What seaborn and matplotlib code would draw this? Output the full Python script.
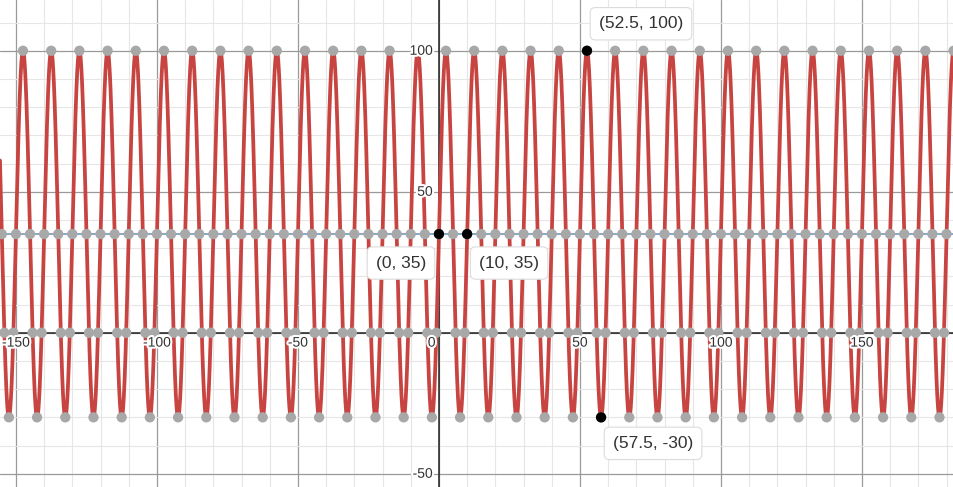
import numpy as np
import pandas as pd
import seaborn as sns
import matplotlib.pyplot as plt
import matplotlib.patheffects as pe

# curve: y = midline + amplitude * sin(2*pi*x / period)
period = 10.0
amplitude = 65.0
midline = 35.0

# labelled points
label_x = [52.5, 0, 10, 57.5]
label_y = [100, 35, 35, -30]
label_text = ["(52.5, 100)", "(0, 35)", "(10, 35)", "(57.5, -30)"]
label_offset = [(54, 27), (-38, -29), (42, -29), (52, -26)]

x_ticks = [-150, -100, -50, 50, 100, 150]
y_ticks = [100, 50, -50]

xmin, xmax = -155.65, 182.65
ymin, ymax = -54.7, 118.0

sns.set_style("white")
plt.rcParams["font.family"] = ["Liberation Sans", "DejaVu Sans"]

fig = plt.figure(figsize=(9.54, 4.87), dpi=100)
ax = fig.add_axes([0, 0, 1, 1])

# grid
ax.set_xticks(np.arange(-150, 200, 50))
ax.set_xticks(np.arange(-150, 190, 10), minor=True)
ax.set_yticks(np.arange(-50, 150, 50))
ax.set_yticks(np.arange(-50, 120, 10), minor=True)
ax.grid(which="minor", color="#e6e6e6", lw=0.8)
ax.grid(which="major", color="#9a9a9a", lw=0.9)
ax.tick_params(which="both", length=0, labelbottom=False, labelleft=False)
for s in ax.spines.values():
    s.set_visible(False)
ax.set_axisbelow(True)
ax.axhline(0, color="#222222", lw=1.1, zorder=1)
ax.axvline(0, color="#222222", lw=1.1, zorder=1)

# midline
ax.axhline(midline, color="#7f9fc6", lw=1.3, zorder=1.5)

# curve
xs = np.linspace(xmin - 5, xmax + 5, 6000)
curve = pd.DataFrame({"x": xs, "y": midline + amplitude * np.sin(2 * np.pi * xs / period)})
sns.lineplot(data=curve, x="x", y="y", color="#c74440", lw=2.7, ax=ax, zorder=2, sort=False)

# gray points: extrema, midline crossings, x-axis crossings
k = np.arange(-17, 20)
half = np.arange(-32, 38)
shift = np.arcsin(midline / amplitude) * period / (2 * np.pi)
pts = pd.DataFrame({
    "x": np.concatenate([k * period + period / 4, k * period + 3 * period / 4, half * period / 2,
                         k * period + period / 2 + shift, k * period + period - shift]),
    "y": np.concatenate([np.full(len(k), midline + amplitude), np.full(len(k), midline - amplitude),
                         np.full(len(half), midline), np.zeros(len(k)), np.zeros(len(k))]),
})
sns.scatterplot(data=pts, x="x", y="y", color="#a8a8a8", s=55, edgecolor="none", ax=ax, zorder=3)

lab = pd.DataFrame({"x": label_x, "y": label_y})
sns.scatterplot(data=lab, x="x", y="y", color="black", s=55, edgecolor="none", ax=ax, zorder=4)

for x, y, t, off in zip(label_x, label_y, label_text, label_offset):
    ax.annotate(t, (x, y), xytext=off, textcoords="offset pixels", ha="center", va="center",
                fontsize=12.5, color="#333333", zorder=5,
                bbox=dict(boxstyle="round,pad=0.5,rounding_size=0.3", fc="white", ec="#dcdcdc", lw=0.8))

halo = [pe.withStroke(linewidth=3, foreground="white")]
for t in x_ticks:
    ax.text(t, -3.5, str(t), ha="center", va="center", fontsize=10, color="#333333",
            path_effects=halo, zorder=3.5)
for t in y_ticks:
    ax.text(-2.2, t, str(t), ha="right", va="center", fontsize=10, color="#333333",
            path_effects=halo, zorder=3.5)
ax.text(-1.2, -3.5, "0", ha="right", va="center", fontsize=10, color="#333333",
        path_effects=halo, zorder=3.5)

ax.set_xlim(xmin, xmax)
ax.set_ylim(ymin, ymax)
ax.set_xlabel("")
ax.set_ylabel("")
fig.savefig("out.png", dpi=100)
